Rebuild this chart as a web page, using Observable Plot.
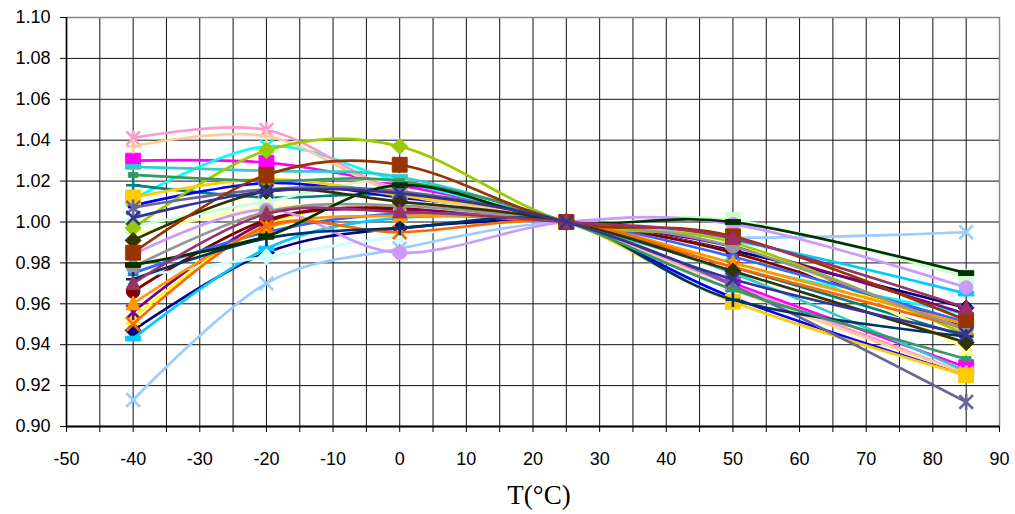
<!DOCTYPE html>
<html>
<head>
<meta charset="utf-8">
<script src="https://cdn.jsdelivr.net/npm/d3@7"></script>
<script src="https://cdn.jsdelivr.net/npm/@observablehq/plot@0.6"></script>
<style>
  html, body { margin: 0; padding: 0; background: #fff; }
</style>
</head>
<body>
<div id="chart"></div>
<script>
// ---- data ----
const temps = [-40, -20, 0, 25, 50, 85];
const xTicks = [-50, -45, -40, -35, -30, -25, -20, -15, -10, -5, 0, 5, 10, 15, 20, 25, 30, 35, 40, 45, 50, 55, 60, 65, 70, 75, 80, 85, 90];
const yTicks = [0.90, 0.92, 0.94, 0.96, 0.98, 1.00, 1.02, 1.04, 1.06, 1.08, 1.10];
const axisTitle = "T(°C)";

const series01 = [0.947, 0.985, 0.997, 1.000, 0.986, 0.958];
const series02 = [1.030, 1.029, 1.018, 1.000, 0.970, 0.929];
const series03 = [0.953, 0.999, 1.007, 1.000, 0.985, 0.947];
const series04 = [1.011, 1.037, 1.020, 1.000, 0.979, 0.955];
const series05 = [0.956, 1.000, 1.006, 1.000, 0.988, 0.955];
const series06 = [0.966, 1.001, 1.007, 1.000, 0.985, 0.949];
const series07 = [1.018, 1.012, 1.013, 1.000, 0.978, 0.944];
const series08 = [1.008, 1.019, 1.012, 1.000, 0.963, 0.925];
const series09 = [0.943, 0.987, 1.002, 1.000, 0.991, 0.965];
const series10 = [0.973, 0.983, 0.993, 1.000, 0.979, 0.950];
const series11 = [0.998, 1.010, 1.020, 1.000, 1.001, 0.973];
const series12 = [0.994, 1.007, 1.008, 1.000, 0.990, 0.938];
const series13 = [0.913, 0.970, 0.987, 1.000, 0.9925, 0.995];
const series14 = [1.041, 1.045, 1.015, 1.000, 0.969, 0.926];
const series15 = [0.984, 1.006, 0.985, 1.000, 0.999, 0.968];
const series16 = [1.037, 1.042, 1.014, 1.000, 0.967, 0.926];
const series17 = [0.975, 0.995, 1.004, 1.000, 0.983, 0.951];
const series18 = [1.027, 1.025, 1.022, 1.000, 0.975, 0.927];
const series19 = [0.997, 1.035, 1.037, 1.000, 0.990, 0.945];
const series20 = [1.012, 1.021, 1.013, 1.000, 0.961, 0.925];
const series21 = [0.960, 0.997, 1.003, 1.000, 0.980, 0.950];
const series22 = [0.950, 0.998, 0.995, 1.000, 0.978, 0.948];
const series23 = [1.007, 1.016, 1.015, 1.000, 0.969, 0.912];
const series24 = [0.978, 1.005, 1.008, 1.000, 0.988, 0.947];
const series25 = [0.972, 0.992, 0.997, 1.000, 0.962, 0.944];
const series26 = [1.023, 1.020, 1.020, 1.000, 0.967, 0.933];
const series27 = [0.979, 0.993, 1.018, 1.000, 1.000, 0.975];
const series28 = [0.991, 1.015, 1.010, 1.000, 0.976, 0.941];
const series29 = [0.985, 1.023, 1.028, 1.000, 0.993, 0.952];
const series30 = [0.970, 1.004, 1.005, 1.000, 0.992, 0.958];
const series31 = [1.002, 1.015, 1.014, 1.000, 0.972, 0.945];

const allSeries = [series01, series02, series03, series04, series05, series06, series07, series08,
  series09, series10, series11, series12, series13, series14, series15, series16, series17, series18,
  series19, series20, series21, series22, series23, series24, series25, series26, series27, series28,
  series29, series30, series31];

// ---- styles ----
const colors = ["#000080", "#FF00FF", "#FFFF00", "#00FFFF", "#800080", "#800000", "#008080", "#0000FF",
  "#00CCFF", "#CCFFFF", "#CCFFCC", "#FFFF99", "#99CCFF", "#FF99CC", "#CC99FF", "#FFCC99",
  "#3366FF", "#33CCCC", "#99CC00", "#FFCC00", "#FF9900", "#FF6600", "#666699", "#969696",
  "#003366", "#339966", "#003300", "#333300", "#993300", "#993366", "#333399"];
const markerCycle = ["diamond", "square", "triangle", "x", "star", "circle", "plus", "dash", "longdash"];

const rOf = size => Math.sqrt(size / Math.PI);
const symbols = {
  diamond: {draw(c, s) { const r = rOf(s); c.moveTo(0, -r); c.lineTo(r, 0); c.lineTo(0, r); c.lineTo(-r, 0); c.closePath(); }},
  square: {draw(c, s) { const r = rOf(s) * 0.93; c.rect(-r, -r, 2 * r, 2 * r); }},
  triangle: {draw(c, s) { const r = rOf(s) * 0.9; c.moveTo(0, -r * 1.1); c.lineTo(r, r * 0.85); c.lineTo(-r, r * 0.85); c.closePath(); }},
  x: {draw(c, s) { const r = rOf(s) * 0.85; c.moveTo(-r, -r); c.lineTo(r, r); c.moveTo(r, -r); c.lineTo(-r, r); }},
  star: {draw(c, s) { const r = rOf(s) * 0.85; c.moveTo(-r, -r); c.lineTo(r, r); c.moveTo(r, -r); c.lineTo(-r, r); c.moveTo(0, -r * 1.2); c.lineTo(0, r * 1.2); }},
  circle: {draw(c, s) { const r = rOf(s) * 0.85; c.moveTo(r, 0); c.arc(0, 0, r, 0, 2 * Math.PI); }},
  plus: {draw(c, s) { const r = rOf(s) * 0.9; c.moveTo(-r, 0); c.lineTo(r, 0); c.moveTo(0, -r); c.lineTo(0, r); }},
  dash: {draw(c, s) { const r = rOf(s); c.rect(-r * 0.6, -r * 0.3, r * 1.2, r * 0.6); }},
  longdash: {draw(c, s) { const r = rOf(s); c.rect(-r * 0.95, -r * 0.3, r * 1.9, r * 0.6); }}
};
const filledMarkers = new Set(["diamond", "square", "triangle", "circle", "dash", "longdash"]);

const seriesMarks = [];
allSeries.forEach((vals, i) => {
  const rows = temps.map((t, j) => ({t, v: vals[j]}));
  const color = colors[i];
  const m = markerCycle[i % markerCycle.length];
  seriesMarks.push(Plot.line(rows, {x: "t", y: "v", stroke: color, strokeWidth: 2.7, curve: "cardinal"}));
  seriesMarks.push(Plot.dot(rows, {
    x: "t", y: "v", r: 8, symbol: symbols[m],
    fill: filledMarkers.has(m) ? color : "none",
    stroke: color, strokeWidth: filledMarkers.has(m) ? 1 : 2.6
  }));
});

const chart = Plot.plot({
  width: 1015,
  height: 514,
  marginLeft: 66,
  marginRight: 16,
  marginTop: 17,
  marginBottom: 88,
  x: {domain: [-50, 90]},
  y: {domain: [0.90, 1.10]},
  style: {fontFamily: "'Liberation Sans', Arial, sans-serif", fontSize: "18px", color: "#000", background: "#fff"},
  marks: [
    Plot.ruleX(xTicks, {stroke: "#111", strokeWidth: 1}),
    Plot.ruleY(yTicks, {stroke: "#111", strokeWidth: 1}),
    Plot.frame({stroke: "#888", strokeWidth: 1.5}),
    ...seriesMarks,
    Plot.ruleX([-50], {stroke: "#000", strokeWidth: 1.5}),
    Plot.ruleY([0.90], {stroke: "#000", strokeWidth: 2}),
    Plot.axisY({ticks: yTicks, tickFormat: d => d.toFixed(2), tickSize: 6, tickPadding: 10, label: null, stroke: "#000", fontSize: 18}),
    Plot.axisX({ticks: xTicks, tickFormat: d => (d % 10 === 0 ? String(d) : ""), tickSize: 6, tickPadding: 20, label: null, stroke: "#000", fontSize: 18}),
    Plot.text([axisTitle], {frameAnchor: "bottom", dy: 69, dx: 6, text: d => d, fontFamily: "'Liberation Serif', 'Times New Roman', serif", fontSize: 27, lineAnchor: "middle"})
  ]
});
document.getElementById("chart").appendChild(chart);
</script>
</body>
</html>
